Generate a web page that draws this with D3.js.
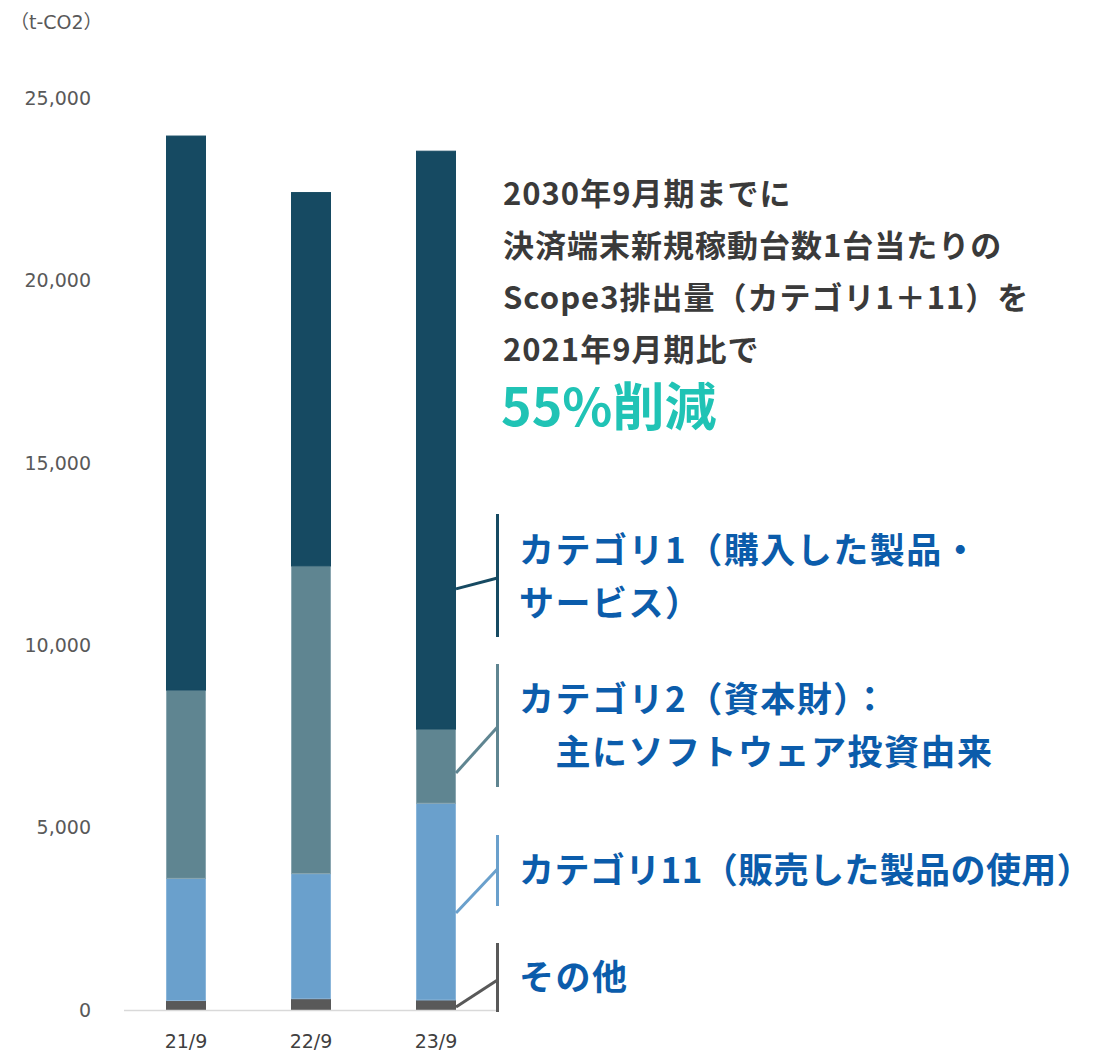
<!DOCTYPE html>
<html lang="ja">
<head>
<meta charset="utf-8">
<script src="https://cdn.jsdelivr.net/npm/d3@7"></script>
<style>
  html, body { margin: 0; padding: 0; background: #fff; }
  svg { display: block; }
</style>
</head>
<body>
<svg id="chart" width="1102" height="1053"></svg>
<script>
// Scope3 emissions by fiscal period (t-CO2)
const periods = ["21/9", "22/9", "23/9"];
const seriesKeys = ["other", "cat11", "cat2", "cat1"];
const other = [260, 310, 275];
const cat11 = [3350, 3430, 5395];
const cat2  = [5165, 8440, 2035];
const cat1  = [15195, 10240, 15850];
const yTicks = [0, 5000, 10000, 15000, 20000, 25000];

const colors = {
  cat1: "#164a62",
  cat2: "#5f8591",
  cat11: "#6aa0cc",
  other: "#595959"
};
const edgeColors = {
  cat1: "#164a62",
  cat2: "#8aa6b0",
  cat11: "#8bb6da",
  other: "#595959"
};

// Callout labels on the right, each tied to one segment of the last bar
const callouts = [
  { key: "cat1",  lines: ["カテゴリ1（購入した製品・", "サービス）"], anchor: 11550, barTop: 514, barBottom: 637, joinY: 578, textY: 550, spacing: 1.5 },
  { key: "cat2",  lines: ["カテゴリ2（資本財）：", "\u3000主にソフトウェア投資由来"], anchor: 6500, barTop: 664, barBottom: 787, joinY: 727, textY: 699, spacing: 1.5 },
  { key: "cat11", lines: ["カテゴリ11（販売した製品の使用）"], anchor: 2660, barTop: 835, barBottom: 906, joinY: 869, textY: 870, spacing: 0.4 },
  { key: "other", lines: ["その他"], anchor: 80, barTop: 943, barBottom: 1012, joinY: 980, textY: 977, spacing: 1.5 }
];

const headline = [
  "2030年9月期までに",
  "決済端末新規稼動台数1台当たりの",
  "Scope3排出量（カテゴリ1＋11）を",
  "2021年9月期比で"
];
const highlight = "55%削減";

const rows = periods.map((p, i) => ({
  period: p, other: other[i], cat11: cat11[i], cat2: cat2[i], cat1: cat1[i]
}));

const svg = d3.select("#chart");

const x = d3.scaleBand()
  .domain(periods)
  .range([123.5, 498.5])
  .paddingInner(0.68)
  .paddingOuter(0.34);

const y = d3.scaleLinear()
  .domain([0, 25000])
  .range([1010, 98.5]);

const stacked = d3.stack().keys(seriesKeys)(rows);

// unit label
svg.append("text")
  .attr("x", 10).attr("y", 29)
  .attr("font-family", "'DejaVu Sans', 'Noto Sans CJK JP', sans-serif")
  .attr("font-size", 19)
  .attr("fill", "#595959")
  .text("（t-CO2）");

// y axis labels
const yAxis = d3.axisLeft(y)
  .tickValues(yTicks)
  .tickFormat(d3.format(","))
  .tickSize(0)
  .tickPadding(0);
const yg = svg.append("g")
  .attr("transform", "translate(91,0)")
  .call(yAxis);
yg.select(".domain").remove();
yg.selectAll("text")
  .attr("font-family", "'DejaVu Sans', sans-serif")
  .attr("font-size", 19)
  .attr("fill", "#595959");

// bars
svg.append("g")
  .selectAll("g")
  .data(stacked)
  .join("g")
  .attr("fill", d => colors[d.key])
  .attr("stroke", d => edgeColors[d.key])
  .attr("stroke-width", 1)
  .selectAll("rect")
  .data(d => d.map(v => ({ v, key: d.key })))
  .join("rect")
  .attr("x", d => x(d.v.data.period) + 0.5)
  .attr("width", x.bandwidth() - 1)
  .attr("y", d => y(d.v[1]))
  .attr("height", d => y(d.v[0]) - y(d.v[1]));

// baseline / x axis
const xAxis = d3.axisBottom(x).tickSize(0).tickPadding(25);
const xg = svg.append("g")
  .attr("transform", `translate(0,${y(0)})`)
  .call(xAxis);
xg.select(".domain").attr("stroke", "#d9d9d9").attr("stroke-width", 1.5);
xg.selectAll("text")
  .attr("font-family", "'DejaVu Sans', sans-serif")
  .attr("font-size", 19)
  .attr("fill", "#404040");

// headline text
const cjk = "'Noto Sans CJK JP', 'Noto Sans', sans-serif";
const head = svg.append("g");
headline.forEach((line, i) => {
  head.append("text")
    .attr("x", 503)
    .attr("y", 205 + i * 52)
    .attr("font-family", cjk)
    .attr("font-weight", 700)
    .attr("font-size", 31)
    .attr("letter-spacing", 1)
    .attr("fill", "#3a3a3a")
    .text(line);
});
head.append("text")
  .attr("x", 501)
  .attr("y", 426)
  .attr("font-family", cjk)
  .attr("font-weight", 700)
  .attr("font-size", 52)
  .attr("fill", "#20c3b5")
  .text(highlight);

// callouts with leader lines
const lastPeriod = periods[periods.length - 1];
const barRight = x(lastPeriod) + x.bandwidth();
const vx = 497.5;
const cg = svg.append("g");
callouts.forEach(c => {
  cg.append("line")
    .attr("x1", vx).attr("x2", vx)
    .attr("y1", c.barTop).attr("y2", c.barBottom)
    .attr("stroke", colors[c.key]).attr("stroke-width", 3);
  cg.append("line")
    .attr("x1", barRight).attr("y1", y(c.anchor))
    .attr("x2", vx).attr("y2", c.joinY)
    .attr("stroke", colors[c.key]).attr("stroke-width", 3);
  c.lines.forEach((t, i) => {
    cg.append("text")
      .attr("x", 519)
      .attr("y", c.textY + i * 53)
      .attr("dy", "0.36em")
      .attr("font-family", cjk)
      .attr("font-weight", 700)
      .attr("font-size", 35)
      .attr("letter-spacing", c.spacing)
      .attr("fill", "#0b5cab")
      .text(t);
  });
});
</script>
</body>
</html>
